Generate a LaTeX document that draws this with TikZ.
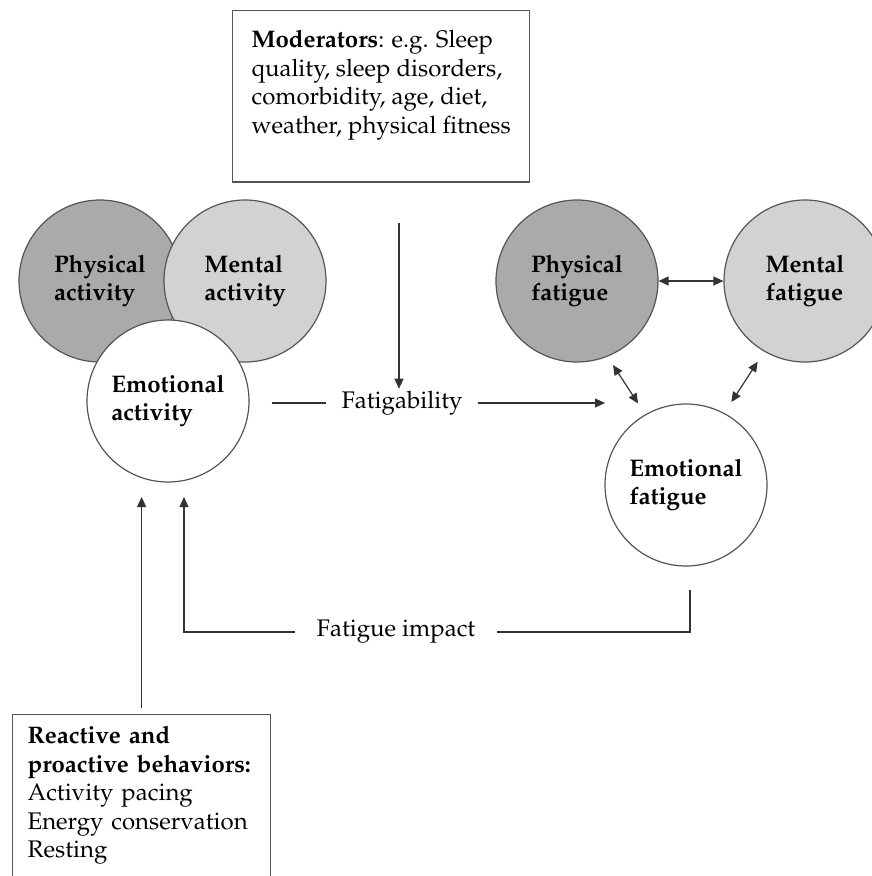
\documentclass[tikz,border=0pt]{standalone}
\usepackage[T1]{fontenc}
\usepackage{mathpazo}
\usetikzlibrary{arrows.meta, positioning}
\definecolor{physgray}{RGB}{171,169,169}
\definecolor{mentgray}{RGB}{211,210,210}
\definecolor{rimgray}{RGB}{85,85,85}
\newcommand*{\txtsize}{\fontsize{24}{28.5}\selectfont}

\begin{document}
\begin{tikzpicture}[x=1pt,y=-1pt,>={Triangle[length=10pt,width=9pt]},
        every node/.style={font=\txtsize},
        blob/.style={circle, draw=rimgray, line width=1.2pt, minimum size=162pt,
                     align=left, font=\txtsize\bfseries},
        infobox/.style={draw=rimgray, line width=1.2pt, align=left, anchor=north west,
                        inner xsep=19pt, inner ysep=20pt},
        lbl/.style={inner xsep=15pt, inner ysep=2pt},
        link/.style={line width=1.2pt, draw=black!80},
        ]
        \useasboundingbox (0,0) rectangle (872,876);

        % moderators
        \node[infobox] (mod) at (232,10)
             {\textbf{Moderators}: e.g. Sleep\\quality, sleep disorders,\\
              comorbidity, age, diet,\\weather, physical fitness\\ \mbox{}};

        % activity side
        \node[blob, fill=physgray] (pa) at (100,281) {Physical\\activity};
        \node[blob, fill=mentgray] (ma) at (245,281) {Mental\\activity};
        \node[blob, fill=white]    (ea) at (168,401) {Emotional\\activity};

        % fatigue side
        \node[blob, fill=physgray] (pf) at (577,281) {Physical\\fatigue};
        \node[blob, fill=mentgray] (mf) at (805,281) {Mental\\fatigue};
        \node[blob, fill=white]    (ef) at (686,485) {Emotional\\fatigue};

        % behaviours
        \node[infobox, inner xsep=15pt, inner ysep=12pt, text width=228pt] (react) at (12,714)
             {\textbf{Reactive and}\\\textbf{proactive behaviors:}\\Activity pacing\\
              Energy conservation\\Resting\\ \mbox{}};

        \node[lbl] (fat) at (402,403) {Fatigability};
        \node[lbl, inner xsep=22pt] (imp) at (396,632) {Fatigue impact};

        \coordinate (modfoot) at (399,223);
        \coordinate (fatend)  at (605,403);
        \coordinate (efout)   at (690,590);
        \coordinate (impend)  at (184,497);
        \coordinate (reactend) at (react.north |- impend);

        \draw[link, ->] (modfoot) -- (modfoot |- fat.north);
        \draw[link, shorten <=22pt] (ea.east |- fat) -- (fat.west);
        \draw[link, ->] (fat.east) -- (fatend);

        \draw[link, <->] (pf.east) -- (mf.west);
        \draw[link, <->, shorten <=10pt, shorten >=13pt] (pf.-68) -- (ef.120);
        \draw[link, <->, shorten <=12pt, shorten >=13pt] (mf.-120) -- (ef.62);

        \draw[link] (efout) |- (imp.east);
        \draw[link, ->] (imp.west) -| (impend);
        \draw[link, ->, shorten <=6pt] (react.north) -- (reactend);
      \end{tikzpicture}
\end{document}
